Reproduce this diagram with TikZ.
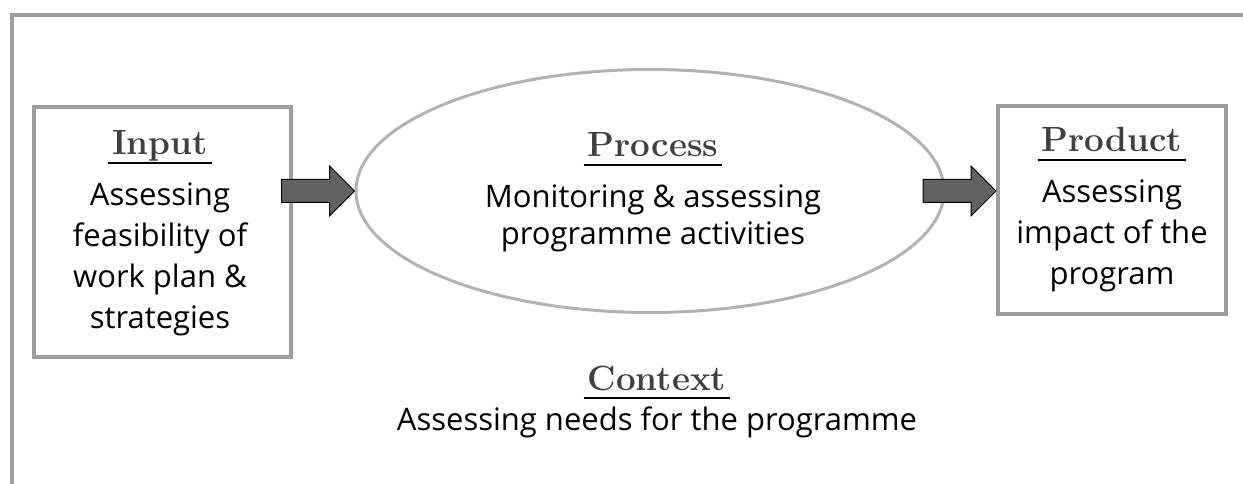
\documentclass[tikz,border=0pt]{standalone}
\usepackage{fontspec}
\setmainfont{Open Sans}
\usetikzlibrary{shapes.geometric}

\newfontfamily\headfont{Latin Modern Roman}

\tikzset{
  frame/.style={draw=black!38, line width=4pt},
  stagebox/.style={draw=black!38, line width=4pt, rectangle, inner sep=0pt},
  stageoval/.style={draw=black!30, line width=3pt, ellipse, inner sep=0pt},
  head/.style={font=\headfont\bfseries\fontsize{35}{35}\selectfont, text=black!75,
    anchor=base, inner xsep=4pt, inner ysep=0pt, text depth=8pt},
  % base of a body node is the baseline of its last line
  body/.style={font=\fontsize{31}{41}\selectfont, align=center, anchor=base, inner sep=0pt},
  headline/.style={line width=2pt},
  fatarrow/.style={draw=black, line width=1pt, fill=black!62}
}

% block arrow ending with its tip at #1
\newcommand{\fatarrow}[1]{%
  \draw[fatarrow] (#1) -- ++(-25,-25) -- ++(0,13.5) -- ++(-48,0) -- ++(0,23)
    -- ++(48,0) -- ++(0,13.5) -- cycle;}

\begin{document}
\begin{tikzpicture}[x=1pt,y=1pt,yscale=-1,xscale=1]
\useasboundingbox (0,0) rectangle (1243,484);

%Shape: outer frame
\draw[frame] (12,484) -- (12,15) -- (1243,15);

%Shapes: the three stages
\node[stagebox, minimum width=257pt, minimum height=249pt] (input) at (162.5,232) {};
\node[stageoval, minimum width=588pt, minimum height=243pt] (process) at (650,191) {};
\node[stagebox, minimum width=228pt, minimum height=208pt] (product) at (1112,210) {};

%Block arrows
\fatarrow{process.west}
\fatarrow{product.west |- process.west}

% Text Nodes
\node[head] (inputtitle) at (160,155) {Input};
\node[body] (inputtext) at (160,328) {Assessing\\feasibility of\\work plan \&\\strategies};

\node[head] (processtitle) at (653,157) {Process};
\node[body, font=\fontsize{31}{37}\selectfont] (processtext) at (653,244)
  {Monitoring \& assessing\\programme activities};

\node[head] (producttitle) at (1112,152) {Product};
\node[body] (producttext) at (1112,284) {Assessing\\impact of the\\program};

\node[head] (contexttitle) at (657,390) {Context};
\node[body] (contexttext) at (657,430) {Assessing needs for the programme};

% underlines of the headings
\foreach \t in {inputtitle,processtitle,producttitle,contexttitle}
  \draw[headline] (\t.south west) -- (\t.south east);

\end{tikzpicture}
\end{document}
